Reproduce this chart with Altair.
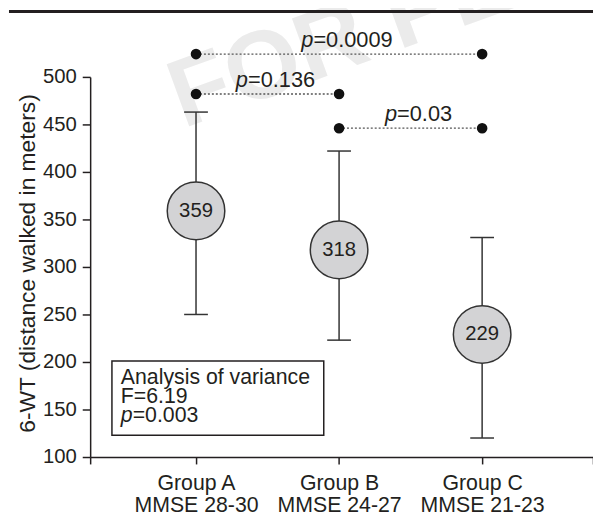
import altair as alt
import pandas as pd

# ---------------- data ----------------
groups = ["Group A", "Group B", "Group C"]
mmse = ["MMSE 28-30", "MMSE 24-27", "MMSE 21-23"]
means = [359, 318, 229]
upper = [463, 422, 331]
lower = [250, 223, 120]

comp_from = [1, 1, 2]          # index positions (Group A=1, B=2, C=3)
comp_to = [3, 2, 3]
comp_level = [524, 482, 446]
comp_p = ["0.0009", "0.136", "0.03"]

anova_lines = ["Analysis of variance", "F=6.19"]
anova_p = "0.003"

y_ticks = [100, 150, 200, 250, 300, 350, 400, 450, 500]
y_title = "6-WT (distance walked in meters)"
watermark = "FOR PERSONAL USE"

# ---------------- layout constants ----------------
FONT = "Liberation Sans"
FS_TICK = 20.5
FS_GRP = 21.5
FS_P = 22
FS_BOX = 21.5
FS_TITLE = 23
INK = "#231f20"
W, H = 508, 384
x_lo, x_hi = 0.26, 3.775
px_per_unit = W / (x_hi - x_lo)

xs = [1, 2, 3]
df = pd.DataFrame({"g": groups, "x": xs, "mean": means, "lo": lower, "hi": upper,
                   "label": [str(m) for m in means]})
caps = pd.DataFrame({"x": xs * 2, "y": lower + upper})

# char width approximations (Arial metrics) to centre "p=..." labels
cw = {"=": 0.584, ".": 0.278}
def text_w(s, fs):
    return sum(cw.get(c, 0.556) for c in s) * fs

seg = pd.DataFrame({"x1": comp_from, "x2": comp_to, "lvl": comp_level,
                    "rest": ["=" + p for p in comp_p]})
p_w = 0.556 * FS_P
seg["split"] = [(a + b) / 2 + (-(p_w + text_w(r, FS_P)) / 2 + p_w + 8) / px_per_unit
                for a, b, r in zip(seg.x1, seg.x2, seg.rest)]
dots = pd.DataFrame({"x": comp_from + comp_to, "y": comp_level * 2})

xs_scale = alt.Scale(domain=[x_lo, x_hi], nice=False, zero=False)
ys_scale = alt.Scale(domain=[100, 500], nice=False, zero=False)

label_expr = "".join(
    f"datum.value == {i + 1} ? ['{g}', '{m}'] : " for i, (g, m) in enumerate(zip(groups, mmse))
) + "''"

x_axis = alt.Axis(values=[x_lo, 1, 2, 3, x_hi], labelExpr=label_expr, tickSize=7,
                  labelPadding=9, title=None, labelLineHeight=22, labelOverlap=False,
                  labelFlush=False, grid=False, labelFontSize=FS_GRP)
y_axis = alt.Axis(values=y_ticks, tickSize=8, labelPadding=6, title=y_title,
                  titleFontSize=FS_TITLE, titleFontWeight="normal", titleFont=FONT,
                  titleColor=INK, titleX=-63, titleY=188, titleAngle=270,
                  titleAlign="center", titleBaseline="middle", grid=False,
                  labelFontSize=FS_TICK)

def X(field):
    return alt.X(field, scale=xs_scale, axis=x_axis)

def Y(field):
    return alt.Y(field, scale=ys_scale, axis=y_axis)

# ---------------- layers ----------------
wm = alt.Chart(pd.DataFrame({"t": [watermark]})).mark_text(
    angle=340, fontSize=97, fontWeight="bold", font=FONT, color="#ebebeb",
    align="left", baseline="alphabetic"
).encode(x=alt.value(94), y=alt.value(52), text="t:N")

topline = alt.Chart(pd.DataFrame({"a": [0]})).mark_rule(color=INK, strokeWidth=3).encode(
    x=alt.value(-82), x2=alt.value(512), y=alt.value(-66))

dotted = alt.Chart(seg).mark_rule(strokeDash=[2, 2], color="#555", strokeWidth=1.3).encode(
    x=X("x1:Q"), x2="x2:Q", y=Y("lvl:Q"))

dot_pts = alt.Chart(dots).mark_circle(size=115, color="#111", opacity=1).encode(
    x=X("x:Q"), y=Y("y:Q"))

p_it = alt.Chart(seg).mark_text(text="p", fontStyle="italic", font=FONT, fontSize=FS_P,
                                color=INK, align="right", baseline="alphabetic", dy=-7).encode(
    x=X("split:Q"), y=Y("lvl:Q"))
p_rest = alt.Chart(seg).mark_text(font=FONT, fontSize=FS_P, color=INK, align="left",
                                  baseline="alphabetic", dy=-7).encode(
    x=X("split:Q"), y=Y("lvl:Q"), text="rest:N")

err = alt.Chart(df).mark_rule(color="#333", strokeWidth=1.5).encode(
    x=X("x:Q"), y=Y("lo:Q"), y2="hi:Q")

cap = alt.Chart(caps).mark_rule(color="#333", strokeWidth=1.5, xOffset=-12, x2Offset=12).encode(
    x=X("x:Q"), x2="x:Q", y=Y("y:Q"))

circ = alt.Chart(df).mark_circle(size=3380, color="#d3d3d5", opacity=1, stroke="#333",
                                 strokeWidth=1.5).encode(x=X("x:Q"), y=Y("mean:Q"))

mean_txt = alt.Chart(df).mark_text(font=FONT, fontSize=FS_TICK, color=INK, baseline="middle").encode(
    x=X("x:Q"), y=Y("mean:Q"), text="label:N")

box = alt.Chart(pd.DataFrame({"a": [0]})).mark_rect(fill="white", stroke=INK, strokeWidth=1.5).encode(
    x=alt.value(22), x2=alt.value(236), y=alt.value(287), y2=alt.value(362))

anova_df = pd.DataFrame({"t": anova_lines, "y": [304, 323.5]})
anova_txt = alt.Chart(anova_df).mark_text(font=FONT, fontSize=FS_BOX, color=INK, align="left",
                                          baseline="middle").encode(
    x=alt.value(31), y=alt.Y("y:Q", scale=None), text="t:N")
anova_p_it = alt.Chart(pd.DataFrame({"a": [0]})).mark_text(
    text="p", fontStyle="italic", font=FONT, fontSize=FS_BOX, color=INK, align="left",
    baseline="middle").encode(x=alt.value(31), y=alt.value(343))
anova_p_rest = alt.Chart(pd.DataFrame({"t": ["=" + anova_p]})).mark_text(
    font=FONT, fontSize=FS_BOX, color=INK, align="left", baseline="middle").encode(
    x=alt.value(31 + 0.556 * FS_BOX), y=alt.value(343), text="t:N")

chart = alt.layer(
    wm, topline, err, cap, dotted, dot_pts, p_it, p_rest, circ, mean_txt,
    box, anova_txt, anova_p_it, anova_p_rest
).properties(
    width=W, height=H,
    autosize=alt.AutoSizeParams(type="none"),
    padding={"left": 83, "top": 67, "right": 0, "bottom": 60},
).configure_view(stroke=None).configure_axis(
    labelFont=FONT, labelColor=INK, domainColor=INK, tickColor=INK,
    domainWidth=1.5, tickWidth=1.5, titleFont=FONT
)

chart.save("out.html", embed_options={"renderer": "svg", "actions": False})
